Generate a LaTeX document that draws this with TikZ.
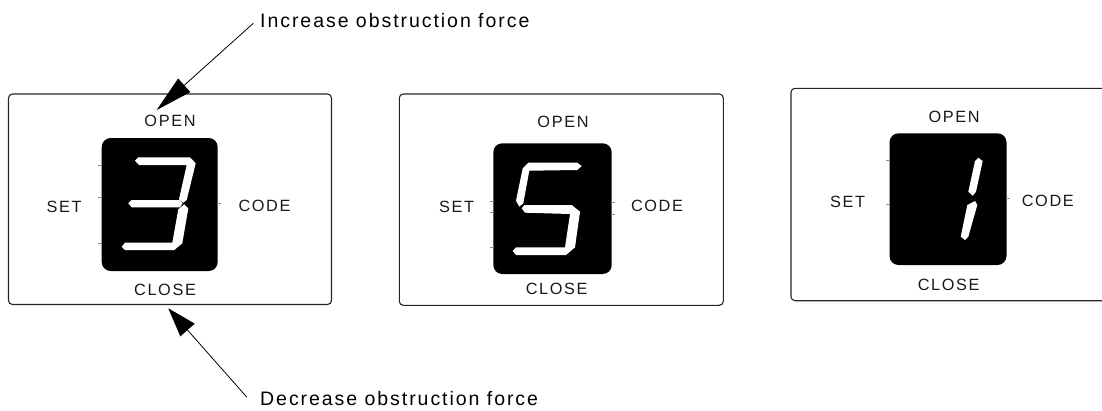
\documentclass[tikz,border=0pt]{standalone}
\usepackage{fontspec}
\setmainfont{Liberation Sans}
\newfontfamily\spacedfont{Liberation Sans}[LetterSpace=10]
\usetikzlibrary{arrows.meta}
\tikzset{
  panel/.style={draw=black!85, line width=1.1pt, rounded corners=4pt},
  lcd/.style={fill=black, rounded corners=9pt},
  seg/.style={fill=white},
  lbl/.style={inner sep=0pt, text=black!90, font={\spacedfont\fontsize{16.3}{18}\selectfont}},
  note/.style={inner sep=0pt, anchor=base west, font={\spacedfont\fontsize{19.5}{22}\selectfont}},
  callout/.style={line width=0.8pt, draw=black},
  pin/.style={draw=black!45, line width=0.6pt},
}
\begin{document}
\begin{tikzpicture}[x=1pt,y=-1pt]
\useasboundingbox (0,0) rectangle (1102,410);
\clip (0,0) rectangle (1102,410);

% ---------- panels ----------
\draw[panel] (8.5,94) rectangle (331.5,304.5);
\draw[panel] (399.3,94) rectangle (723.3,305.3);
\draw[panel] (791,88.3) rectangle (1115,300.7);

% ---------- displays ----------
\fill[lcd] (101.7,138) rectangle (217.7,271);
\fill[lcd] (493.3,143.3) rectangle (611.7,274);
\fill[lcd] (889.5,133.3) rectangle (1006.5,265);

% pin stubs
\draw[pin] (98,165) -- (102,165);
\draw[pin] (98,197.3) -- (102,197.3);
\draw[pin] (98,243.3) -- (102,243.3);
\draw[pin] (217,203.3) -- (221,203.3);
\draw[pin] (490,201.7) -- (494,201.7);
\draw[pin] (490,212.7) -- (494,212.7);
\draw[pin] (490,247.3) -- (494,247.3);
\draw[pin] (611,202.7) -- (615,202.7);
\draw[pin] (611,214) -- (615,214);
\draw[pin] (886,160) -- (890,160);
\draw[pin] (886,204.3) -- (890,204.3);
\draw[pin] (1006,198.3) -- (1010,198.3);

% ---------- digit 3 ----------
\fill[seg] (135.0,160.7) -- (138.3,157.3) -- (190.0,157.3) -- (195.7,163.3) -- (186.7,200.0)
  -- (183.3,202.7) -- (179.0,199.3) -- (186.7,165.0) -- (139.0,165.0) -- cycle;
\fill[seg] (128.3,203.3) -- (131.7,200.0) -- (180,200) -- (182.7,203.3) -- (180,207.3)
  -- (131.7,207.3) -- cycle;
\fill[seg] (184.3,204.3) -- (188.3,208.3) -- (182.3,243.3) -- (174.3,250) -- (125,250)
  -- (121.7,246.7) -- (125,242.7) -- (172.3,242.7) -- (178.3,209.3) -- cycle;

% ---------- digit 5 ----------
\fill[seg] (581.7,166) -- (577.3,162.7) -- (528.3,162.7) -- (522.7,168.3) -- (516,200.7)
  -- (519.3,206.7) -- (523.3,203.3) -- (529.3,170.7) -- (577.3,170) -- cycle;
\fill[seg] (521.7,208.3) -- (524.3,205) -- (571.7,205) -- (580,211.7) -- (575,247.3)
  -- (566,255) -- (516,255) -- (512.7,251) -- (516,247.3) -- (565,247.3) -- (570,214)
  -- (525,212.7) -- cycle;

% ---------- digit 1 ----------
\fill[seg] (978.3,157.7) -- (982.7,161) -- (976,191.7) -- (972.7,195.7) -- (968.3,191.7)
  -- (975,161) -- cycle;
\fill[seg] (975,201) -- (977.3,205) -- (968.3,236.7) -- (965,240) -- (960.7,236.7)
  -- (967.3,205) -- cycle;

% ---------- labels ----------
\node[lbl] (open1)  at (170,121)   {OPEN};
\node[lbl] (set1)   at (64,206.7)  {SET};
\node[lbl] (code1)  at (264.5,205.8) {CODE};
\node[lbl] (close1) at (165,289.7) {CLOSE};

\node[lbl] (open2)  at (563,121.7) {OPEN};
\node[lbl] (set2)   at (456.7,206.7) {SET};
\node[lbl] (code2)  at (657,205.8) {CODE};
\node[lbl] (close2) at (556.7,289.2) {CLOSE};

\node[lbl] (open3)  at (954.2,117.2) {OPEN};
\node[lbl] (set3)   at (847.5,202.2) {SET};
\node[lbl] (code3)  at (1047.8,200.8) {CODE};
\node[lbl] (close3) at (948.7,285.2) {CLOSE};

% ---------- annotations ----------
\node[note] (inc) at (260,27.3) {Increase obstruction force};
\node[note] (dec) at (260,405) {Decrease obstruction force};

\coordinate (incTail) at (253.3,23.3);
\coordinate (incTip)  at (156.7,110);
\coordinate (decTail) at (246.7,397);
\coordinate (decTip)  at (168.3,308.3);

\draw[callout, -{Triangle[length=37pt,width=18pt]}] (incTail) -- (incTip);
\draw[callout, -{Triangle[length=29pt,width=19pt]}] (decTail) -- (decTip);
\end{tikzpicture}
\end{document}
